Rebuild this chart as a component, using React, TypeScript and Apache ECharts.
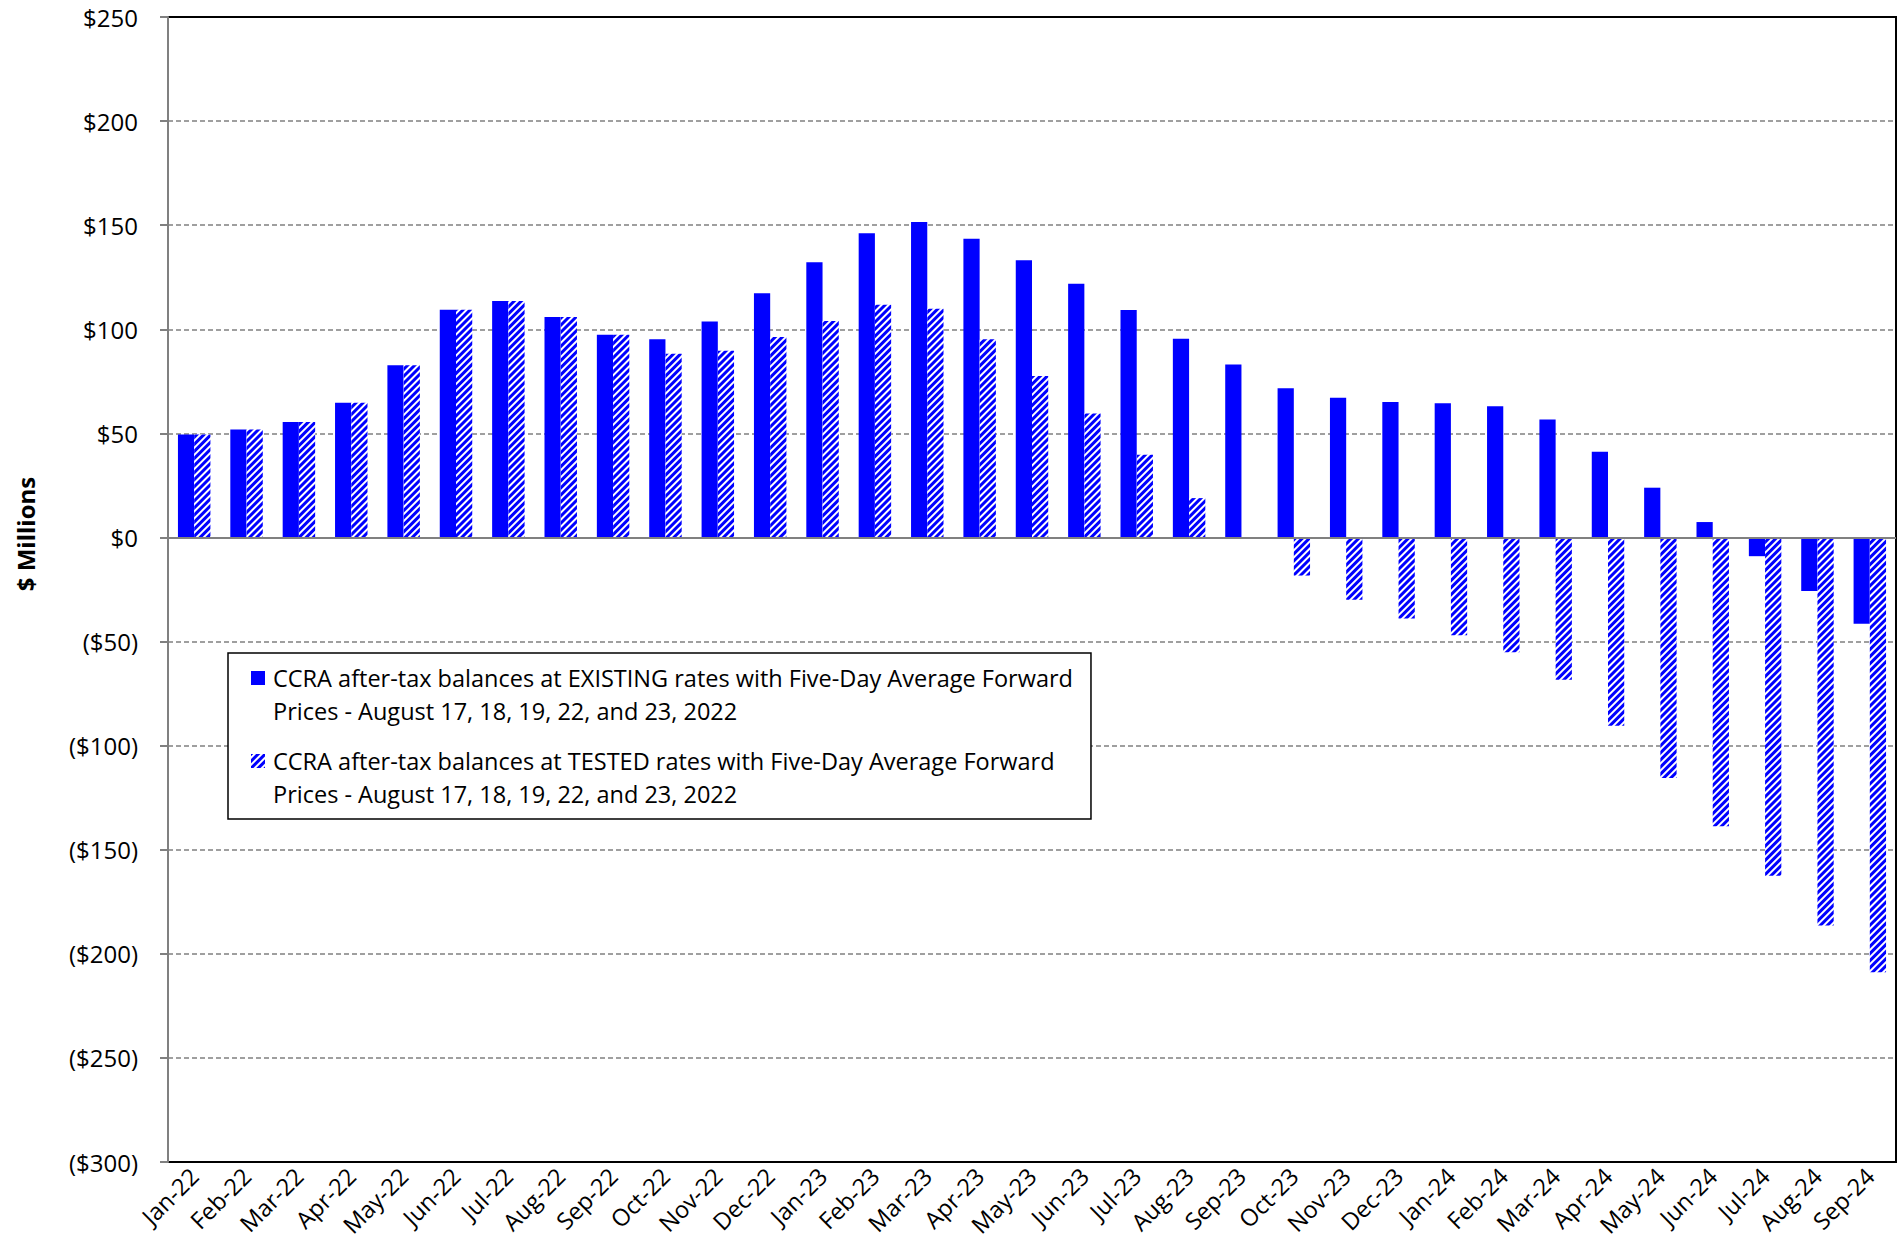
import React, { useEffect, useRef } from "react";
import * as echarts from "echarts";

const categories = [
  "Jan-22", "Feb-22", "Mar-22", "Apr-22", "May-22", "Jun-22", "Jul-22", "Aug-22", "Sep-22", "Oct-22", "Nov-22", "Dec-22",
  "Jan-23", "Feb-23", "Mar-23", "Apr-23", "May-23", "Jun-23", "Jul-23", "Aug-23", "Sep-23", "Oct-23", "Nov-23", "Dec-23",
  "Jan-24", "Feb-24", "Mar-24", "Apr-24", "May-24", "Jun-24", "Jul-24", "Aug-24", "Sep-24",
];

const existingRates = [
  49.4, 51.8, 55.5, 64.7, 82.7, 109.4, 113.6, 105.9, 97.4, 95.2, 103.7, 117.3,
  132.2, 146.1, 151.5, 143.5, 133.1, 121.9, 109.2, 95.4, 83.1, 71.7, 67.1, 65.1,
  64.5, 63.0, 56.6, 41.2, 23.9, 7.4, -9.0, -25.7, -41.4,
];

const testedRates = [
  49.4, 51.8, 55.5, 64.7, 82.7, 109.4, 113.6, 105.9, 97.4, 88.2, 89.7, 96.3,
  104.0, 111.8, 109.9, 95.2, 77.6, 59.6, 39.7, 18.9, 0, -18.3, -29.9, -38.9,
  -47.0, -55.1, -68.3, -90.5, -115.5, -138.7, -162.5, -186.4, -208.8,
];

const seriesNames = [
  "CCRA after-tax balances at EXISTING rates with Five-Day Average Forward\nPrices - August 17, 18, 19, 22, and 23, 2022",
  "CCRA after-tax balances at TESTED rates with Five-Day Average Forward\nPrices - August 17, 18, 19, 22, and 23, 2022",
];

const yAxisTitle = "$ Millions";
const yMin = -300;
const yMax = 250;
const yStep = 50;

const FONT = "'Open Sans', Lato, sans-serif";
const BLUE = "#0000FF";

function fmtMoney(v: number): string {
  if (v < 0) return "($" + Math.abs(v) + ")";
  return "$" + v;
}

export default function App() {
  const ref = useRef<HTMLDivElement>(null);

  useEffect(() => {
    if (!ref.current) return;
    const chart = echarts.init(ref.current, null, { renderer: "svg" });
    // legend icon: square aligned with the first text line of a two-line label
    const iconPath =
      "path://M0,0 L0.01,0 M0,9 L14,9 L14,23 L0,23 Z M0,65 L0.01,65";
    const option: any = {
      animation: false,
      backgroundColor: "#fff",
      textStyle: { fontFamily: FONT },
      grid: {
        left: 168,
        right: 8,
        top: 17,
        bottom: 94,
        show: true,
        borderColor: "#000",
        borderWidth: 2,
        backgroundColor: "transparent",
      },
      legend: {
        left: 228,
        top: 653,
        orient: "vertical",
        itemWidth: 14,
        itemHeight: 65,
        itemGap: 18,
        padding: [9, 18, 9, 23],
        borderColor: "#000",
        borderWidth: 1.5,
        backgroundColor: "#fff",
        icon: iconPath,
        textStyle: {
          fontFamily: FONT,
          fontSize: 23.5,
          lineHeight: 32.5,
          color: "#000",
          padding: [0, 0, 0, 3],
        },
        data: [
          { name: seriesNames[0], icon: iconPath },
          { name: seriesNames[1], icon: iconPath },
        ],
      },
      xAxis: {
        type: "category",
        data: categories,
        position: "bottom",
        axisLine: { show: false, onZero: false },
        axisTick: { show: false },
        axisLabel: {
          interval: 0,
          rotate: 45,
          margin: 10,
          color: "#000",
          fontFamily: FONT,
          fontSize: 23.5,
        },
        splitLine: { show: false },
      },
      yAxis: {
        type: "value",
        min: yMin,
        max: yMax,
        interval: yStep,
        axisLine: { show: true, lineStyle: { color: "#808080", width: 2 } },
        axisTick: { show: true, length: 8, lineStyle: { color: "#808080", width: 2 } },
        axisLabel: {
          formatter: fmtMoney,
          color: "#000",
          fontFamily: FONT,
          fontSize: 24,
          margin: 30,
        },
        splitLine: {
          show: true,
          showMinLine: false,
          showMaxLine: false,
          lineStyle: { color: "#808080", type: [5, 3], width: 1.5 },
        },
      },
      graphic: [
        {
          type: "text",
          x: 25,
          y: 534,
          rotation: Math.PI / 2,
          style: {
            text: yAxisTitle,
            align: "center",
            verticalAlign: "middle",
            font: "bold 24px " + FONT,
            fill: "#000",
          },
        },
      ],
      series: [
        {
          name: seriesNames[0],
          type: "bar",
          data: existingRates,
          barGap: "0%",
          barCategoryGap: "38%",
          itemStyle: { color: BLUE },
          markLine: {
            silent: true,
            symbol: "none",
            label: { show: false },
            lineStyle: { color: "#808080", type: "solid", width: 2 },
            data: [{ yAxis: 0 }],
          },
        },
        {
          name: seriesNames[1],
          type: "bar",
          data: testedRates,
          barGap: "0%",
          barCategoryGap: "38%",
          itemStyle: {
            color: "#ffffff",
            decal: {
              symbol: "rect",
              symbolSize: 1,
              color: BLUE,
              dashArrayX: [1, 0],
              dashArrayY: [2.5, 1.5],
              rotation: -Math.PI / 4,
            },
          },
        },
      ],
    };
    chart.setOption(option);
    return () => chart.dispose();
  }, []);

  return (
    <div
      ref={ref}
      style={{ position: "fixed", left: 0, top: 0, width: 1904, height: 1256, background: "#fff" }}
    />
  );
}
